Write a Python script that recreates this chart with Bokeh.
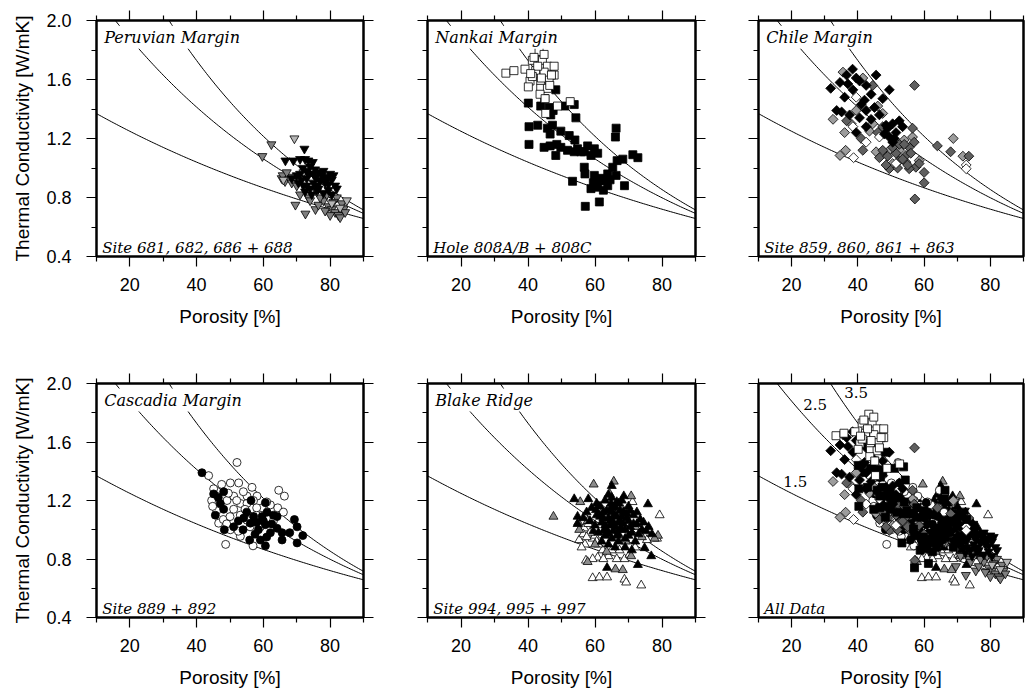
import numpy as np
from bokeh.plotting import figure
from bokeh.layouts import column, row
from bokeh.models import FixedTicker, LinearAxis, Label, PrintfTickFormatter, Range1d
from bokeh.embed import file_html
from bokeh.resources import INLINE

# ---------------------------------------------------------------------------
# Geometric-mean mixing model: k = k_water^phi * k_matrix^(1-phi)
k_water = 0.6
k_matrix = [1.5, 2.5, 3.5]

x_major = [20, 40, 60, 80]
x_minor = [10, 30, 50, 70, 90]
y_major = [0.4, 0.8, 1.2, 1.6, 2.0]
y_minor = [0.6, 1.0, 1.4, 1.8]

# ---------------------------------------------------------------------------
# Peruvian Margin (Sites 681, 682, 686, 688) - inverted triangles
peru_black_phi = [66.6, 69.0, 72.3, 71.0, 72.5, 73.5, 74.8, 71.8, 73.0, 74.0, 75.5, 76.5, 78.0,
                  80.0, 79.0, 77.0, 70.0, 71.5, 73.0, 75.0, 76.0, 78.5, 80.5, 81.5, 72.0, 74.0,
                  76.0, 79.5, 70.5, 68.5, 77.5, 75.5, 73.5, 82.0, 80.5, 78.0, 74.5, 72.5,
                  75.0, 77.0, 79.5, 73.0, 71.0, 76.5, 78.5, 81.0]
peru_black_k = [1.05, 1.05, 1.13, 1.06, 1.06, 1.05, 1.04, 1.00, 0.98, 1.01, 0.99, 0.97, 0.98,
                0.96, 0.93, 0.92, 0.95, 0.92, 0.93, 0.90, 0.88, 0.90, 0.92, 0.88, 0.88, 0.86,
                0.85, 0.85, 0.90, 0.93, 0.95, 0.94, 0.96, 0.86, 0.82, 0.83, 0.82, 0.84,
                0.96, 0.91, 0.89, 0.88, 0.96, 0.86, 0.94, 0.95]
peru_gray_phi = [59.7, 62.4, 65.5, 66.5, 67.5, 65.8, 68.5, 70.0, 69.6, 72.6, 75.6, 76.5, 78.0,
                 79.5, 80.5, 81.5, 82.5, 83.0, 84.0, 83.5, 82.0, 79.0, 77.0, 81.0, 71.0, 73.5,
                 76.0, 84.5, 80.0, 78.5, 67.0, 70.5, 74.0]
peru_gray_k = [1.08, 1.16, 0.93, 0.91, 0.94, 0.95, 0.90, 0.88, 0.75, 0.69, 0.72, 0.75, 0.78,
               0.74, 0.72, 0.70, 0.68, 0.665, 0.72, 0.76, 0.80, 0.82, 0.80, 0.77, 0.82, 0.80,
               0.84, 0.70, 0.68, 0.71, 0.97, 0.93, 0.78]
peru_light_phi = [69.3, 85.0, 80.5, 72.0, 66.0, 83.0]
peru_light_k = [1.20, 0.78, 0.76, 0.97, 0.92, 0.73]

# Nankai Margin (Hole 808A/B, 808C) - squares
nankai_open_phi = [33.4, 35.8, 39.1, 43.3, 41.3, 44.3, 45.8, 47.8, 47.8, 46.3, 43.8, 40.6, 40.1,
                   43.8, 45.8, 42.3, 44.8, 41.3, 43.6, 45.1, 45.3, 48.8, 52.6, 41.8, 44.8, 47.0,
                   42.9, 46.5, 40.8, 44.0]
nankai_open_k = [1.643, 1.66, 1.67, 1.79, 1.73, 1.73, 1.69, 1.69, 1.63, 1.60, 1.59, 1.59, 1.55,
                 1.54, 1.54, 1.66, 1.65, 1.62, 1.50, 1.47, 1.37, 1.42, 1.45, 1.75, 1.77, 1.63,
                 1.69, 1.56, 1.64, 1.61]
nankai_solid_phi = [48.3, 40.1, 43.8, 46.3, 46.8, 40.3, 42.9, 45.8, 47.3, 46.6, 49.8, 52.3, 54.0,
                    40.3, 44.8, 46.6, 48.6, 48.3, 51.8, 53.8, 55.8, 57.8, 58.8, 60.8, 54.3, 51.0,
                    53.8, 66.3, 66.1, 66.6, 68.3, 71.3, 72.8, 65.3, 63.8, 66.3, 56.8, 57.0, 59.8,
                    61.3, 58.8, 60.8, 63.8, 68.8, 53.3, 57.1, 61.3, 61.8, 56.8, 59.8, 54.8, 49.8,
                    62.8, 59.5, 62.5, 64.5, 45.0, 47.5]
nankai_solid_k = [1.53, 1.44, 1.42, 1.41, 1.36, 1.28, 1.29, 1.27, 1.29, 1.23, 1.25, 1.22, 1.19,
                  1.16, 1.14, 1.15, 1.16, 1.085, 1.12, 1.11, 1.11, 1.15, 1.085, 1.10, 1.34, 1.42,
                  1.43, 1.27, 1.21, 1.05, 1.06, 1.09, 1.07, 1.005, 0.96, 0.95, 1.005, 0.96, 0.95,
                  0.915, 0.86, 0.87, 0.88, 0.88, 0.91, 0.74, 0.77, 0.93, 1.11, 1.13, 1.13, 1.14,
                  0.915, 0.90, 0.85, 0.92, 1.47, 1.39]

# Chile Margin (Sites 859, 860, 861, 863) - diamonds
chile_black_phi = [31.8, 34.6, 38.4, 36.6, 40.5, 45.5, 49.5, 36.0, 38.5, 42.5, 47.5, 35.1, 37.5,
                   40.5, 42.5, 45.0, 39.5, 42.5, 48.5, 50.5, 51.5, 52.5, 49.5, 50.5, 33.6, 42.0,
                   46.5, 37.0, 39.5, 44.0, 48.0, 49.0, 51.0, 53.5, 41.0, 44.0]
chile_black_k = [1.54, 1.58, 1.67, 1.63, 1.59, 1.63, 1.53, 1.48, 1.53, 1.56, 1.47, 1.38, 1.36,
                 1.34, 1.39, 1.41, 1.24, 1.28, 1.29, 1.30, 1.24, 1.32, 1.21, 1.175, 1.39, 1.46,
                 1.36, 1.57, 1.61, 1.50, 1.23, 1.27, 1.20, 1.28, 1.43, 1.33]
chile_dark_phi = [57.1, 64.0, 68.0, 73.5, 57.2, 60.0, 60.0, 57.5, 57.0, 56.5, 54.5, 52.5, 49.5,
                  46.5, 41.5, 41.0, 46.0, 52.5, 55.5, 44.5, 36.6, 47.5, 55.5, 58.5, 51.5,
                  47.5, 49.0, 50.5, 53.5, 54.0, 52.0, 55.0, 48.5, 56.0]
chile_dark_k = [1.56, 1.15, 1.11, 1.08, 0.79, 0.90, 0.97, 1.005, 1.175, 1.27, 1.085, 1.05, 0.995,
                1.07, 1.12, 1.20, 1.24, 1.16, 1.14, 1.56, 1.32, 1.28, 0.995, 1.03, 1.10,
                1.12, 1.08, 1.14, 1.06, 1.16, 1.00, 1.02, 1.02, 1.10]
chile_light_phi = [32.5, 35.5, 41.5, 34.6, 36.3, 68.8, 71.7, 58.5, 47.5, 43.5, 50.5, 54.0, 56.5,
                   39.5, 36.0, 45.5, 54.5, 44.5, 46.0, 52.5, 49.5, 38.0]
chile_light_k = [1.33, 1.65, 1.61, 1.085, 1.12, 1.20, 1.08, 1.05, 1.37, 1.25, 1.03, 1.19, 1.21,
                 1.39, 1.24, 1.11, 1.04, 1.30, 1.42, 1.12, 1.12, 1.30]
chile_open_phi = [38.7, 72.7, 72.7, 42.5, 46.5, 39.5, 38.5, 51.5]
chile_open_k = [1.07, 1.02, 0.995, 1.175, 1.21, 1.48, 1.28, 1.03]

# Cascadia Margin (Sites 889, 892) - circles
casc_solid_phi = [41.6, 45.1, 48.1, 45.6, 48.1, 48.3, 51.1, 53.9, 54.1, 55.9, 56.3, 57.1, 56.1,
                  59.1, 60.6, 59.6, 60.6, 60.6, 61.1, 62.1, 64.1, 64.1, 65.6, 65.6, 67.9, 69.3,
                  70.1, 70.1, 71.8, 47.1, 58.0, 60.0, 62.5, 58.5, 57.5, 61.0, 63.0, 55.0, 52.5,
                  46.5]
casc_solid_k = [1.39, 1.245, 1.26, 1.10, 1.14, 1.00, 1.02, 1.00, 1.08, 0.93, 1.20, 1.09, 1.045,
                0.93, 1.185, 1.09, 1.035, 0.89, 1.12, 0.98, 1.09, 1.01, 0.98, 0.93, 0.98, 1.07,
                1.02, 0.91, 0.96, 1.18, 1.05, 1.06, 1.04, 1.00, 0.97, 0.95, 1.10, 1.12, 1.06,
                1.22]
casc_open_phi = [52.1, 43.6, 50.1, 52.6, 45.1, 56.6, 49.1, 51.1, 53.1, 55.1, 58.1, 47.1, 51.1,
                 53.1, 46.6, 50.1, 53.1, 48.7, 56.9, 64.6, 66.3, 64.3, 62.1, 59.6, 57.9, 55.1,
                 45.9, 59.1, 55.1, 44.5, 46.0, 48.0, 49.5, 54.0, 57.0, 50.0, 52.0, 54.5, 61.0,
                 63.0, 66.0, 47.5, 44.8, 49.0, 52.5, 56.0, 58.0]
casc_open_k = [1.46, 1.37, 1.32, 1.32, 1.28, 1.29, 1.20, 1.23, 1.18, 1.23, 1.23, 1.16, 1.14,
               1.10, 1.045, 1.00, 0.955, 0.90, 0.89, 1.27, 1.23, 1.15, 1.17, 1.15, 1.10, 1.18,
               1.23, 1.02, 1.065, 1.20, 1.13, 1.07, 1.25, 1.26, 1.20, 1.09, 1.20, 1.14, 1.19,
               1.06, 1.12, 1.31, 1.16, 1.04, 0.99, 1.02, 1.15]

# Blake Ridge (Sites 994, 995, 997) - triangles
blake_gray_phi = [47.6, 59.6, 65.6, 64.4, 55.6, 70.8, 55.3, 57.8, 66.1, 68.3, 78.8, 69.2, 57.8,
                  70.8, 77.8, 55.0, 62.0, 66.0, 72.0, 60.0, 68.0, 74.0, 63.5]
blake_gray_k = [1.09, 1.31, 1.33, 1.245, 1.19, 1.23, 1.00, 0.78, 0.73, 0.725, 0.96, 0.92, 1.06,
                0.82, 0.94, 1.05, 1.12, 1.00, 1.02, 0.90, 1.15, 0.95, 0.85]
blake_solid_phi = [53.8, 58.0, 65.0, 68.6, 75.8, 64.8, 60.3, 54.8, 54.8, 63.6, 72.8, 76.8, 74.8,
                   75.3, 59.0, 60.5, 61.5, 62.0, 62.5, 63.0, 63.5, 64.0, 64.5, 65.0, 65.5, 66.0,
                   66.5, 67.0, 67.5, 68.0, 68.5, 69.0, 69.5, 70.0, 70.5, 71.0, 71.5, 72.0, 72.5,
                   73.0, 73.5, 74.0, 61.0, 62.0, 63.0, 64.0, 65.0, 66.0, 67.0, 60.0, 58.5, 57.5,
                   56.5, 59.5, 65.0, 66.0, 68.0, 70.5, 72.5, 74.5, 76.0, 77.0, 69.0, 71.0, 64.5,
                   67.5, 62.5, 63.5, 64.5, 65.5, 66.5, 67.5, 68.5, 69.5, 63.0, 65.0, 66.0, 67.0,
                   68.0, 69.0, 70.0, 64.0, 65.5, 67.0, 61.5, 60.5, 62.5, 71.5, 70.0, 66.5, 64.0]
blake_solid_k = [1.21, 1.21, 1.30, 1.23, 1.175, 1.18, 1.135, 1.09, 1.04, 0.74, 0.76, 0.82, 0.875,
                 0.99, 1.15, 1.10, 1.16, 1.05, 1.12, 1.20, 1.00, 1.08, 1.14, 1.22, 1.04, 1.10,
                 0.96, 1.18, 1.06, 1.00, 1.12, 0.94, 1.08, 1.16, 1.02, 0.98, 1.10, 0.92, 1.04,
                 0.97, 1.07, 1.00, 0.98, 0.92, 0.96, 0.90, 0.94, 0.88, 0.92, 1.03, 1.06, 1.12,
                 1.08, 0.99, 1.12, 1.16, 1.20, 1.13, 1.12, 1.05, 1.02, 0.97, 0.88, 0.86, 1.03,
                 1.01, 1.08, 1.13, 1.06, 1.15, 1.09, 1.13, 1.04, 1.11, 1.03, 1.07, 1.02, 1.05,
                 1.09, 1.00, 1.06, 0.97, 0.99, 0.97, 1.09, 1.18, 0.99, 1.04, 0.96, 1.19, 1.24]
blake_open_phi = [79.3, 71.2, 56.8, 59.3, 55.3, 56.5, 62.3, 60.8, 59.3, 57.3, 68.8, 70.3, 67.3,
                  65.0, 59.3, 61.3, 63.6, 68.8, 69.3, 73.8, 78.5, 58.0, 61.0, 64.0, 66.5, 72.0,
                  75.5, 60.0, 57.0, 56.0, 58.5, 57.5, 60.5, 62.5]
blake_open_k = [1.10, 1.19, 1.01, 0.94, 0.93, 0.97, 0.86, 0.81, 0.80, 0.79, 0.80, 0.83, 0.86,
                0.86, 0.67, 0.675, 0.675, 0.66, 0.64, 0.62, 0.94, 1.04, 0.90, 0.82, 0.80, 0.88,
                0.93, 0.96, 0.90, 0.88, 0.98, 0.95, 0.92, 0.80]

# ---------------------------------------------------------------------------
SANS = "Liberation Sans"
SERIF = "DejaVu Serif"
TICK_FONT = "18px"
TITLE_FONT = "19px"

# marker styling per group: (phi, k, marker, fill, size, angle)
peru = [(peru_gray_phi, peru_gray_k, "inverted_triangle", "#7f7f7f", 9, 0.0),
        (peru_light_phi, peru_light_k, "inverted_triangle", "#b5b5b5", 9, 0.0),
        (peru_black_phi, peru_black_k, "inverted_triangle", "black", 9, 0.0)]
nankai = [(nankai_solid_phi, nankai_solid_k, "square", "black", 8, 0.0),
          (nankai_open_phi, nankai_open_k, "square", "white", 8, 0.0)]
chile = [(chile_light_phi, chile_light_k, "square", "#9c9c9c", 7, np.pi / 4),
         (chile_dark_phi, chile_dark_k, "square", "#5f5f5f", 7, np.pi / 4),
         (chile_open_phi, chile_open_k, "square", "white", 7, np.pi / 4),
         (chile_black_phi, chile_black_k, "square", "black", 7, np.pi / 4)]
casc = [(casc_open_phi, casc_open_k, "circle", "white", 8, 0.0),
        (casc_solid_phi, casc_solid_k, "circle", "black", 8, 0.0)]
blake = [(blake_open_phi, blake_open_k, "triangle", "white", 9, 0.0),
         (blake_gray_phi, blake_gray_k, "triangle", "#8c8c8c", 9, 0.0),
         (blake_solid_phi, blake_solid_k, "triangle", "black", 9, 0.0)]


def make_axis(side, ticker, fmt, show_labels, label=None):
    ax = LinearAxis(ticker=ticker, formatter=fmt)
    ax.axis_line_color = None
    ax.major_tick_out = 10
    ax.major_tick_in = 0
    ax.minor_tick_out = 5
    ax.minor_tick_in = 0
    ax.major_tick_line_color = "black"
    ax.minor_tick_line_color = "black"
    ax.major_tick_line_width = 1.2
    ax.minor_tick_line_width = 1.2
    if show_labels:
        ax.major_label_text_font = SANS
        ax.major_label_text_font_size = TICK_FONT
        ax.major_label_text_color = "black"
        ax.major_label_standoff = 11 if side == "below" else 15
    else:
        # tick marks only, no visible labels
        ax.major_label_text_font_size = "0px"
        ax.major_label_standoff = 0
    if label:
        ax.axis_label = label
        ax.axis_label_text_font = SANS
        ax.axis_label_text_font_size = TITLE_FONT
        ax.axis_label_text_font_style = "normal"
        ax.axis_label_text_color = "black"
        ax.axis_label_standoff = 12 if side == "below" else 10
    return ax


def make_panel(groups, frame_w, frame_h, left, right, top, bottom,
               first_col, right_axis, title=None, footer=None, curve_tags=False):
    p = figure(width=left + frame_w + right, height=top + frame_h + bottom,
               x_range=Range1d(10, 90), y_range=Range1d(0.4, 2.0),
               x_axis_location=None, y_axis_location=None,
               min_border_left=left, min_border_right=right,
               min_border_top=top, min_border_bottom=bottom,
               output_backend="svg", toolbar_location=None)
    p.xgrid.visible = False
    p.ygrid.visible = False
    p.outline_line_color = "black"
    p.outline_line_width = 2.5
    p.background_fill_color = "white"
    p.border_fill_color = "white"

    xt = FixedTicker(ticks=x_major, minor_ticks=x_minor)
    yt = FixedTicker(ticks=y_major, minor_ticks=y_minor)
    xf = PrintfTickFormatter(format="%d")
    yf = PrintfTickFormatter(format="%.1f")
    p.add_layout(make_axis("below", xt, xf, True, "Porosity [%]"), "below")
    p.add_layout(make_axis("above", xt, xf, False), "above")
    p.add_layout(make_axis("left", yt, yf, first_col,
                           "Thermal Conductivity [W/mK]" if first_col else None), "left")
    if right_axis:
        p.add_layout(make_axis("right", yt, yf, False), "right")

    # model curves
    phi = np.linspace(10, 90, 161)
    for ks in k_matrix:
        k = k_water ** (phi / 100.0) * ks ** (1.0 - phi / 100.0)
        p.line(phi, k, line_color="black", line_width=1)

    for (xs, ys, marker, fill, size, angle) in groups:
        p.scatter(xs, ys, marker=marker, size=size, angle=angle,
                  fill_color=fill, line_color="black", line_width=0.8)

    if title:
        p.add_layout(Label(x=11.7, y=1.965, text=title, text_baseline="top",
                           text_font=SERIF, text_font_style="italic",
                           text_font_size="16px", text_color="black",
                           background_fill_color="white", padding=2))
    if footer:
        p.add_layout(Label(x=11.7, y=0.455, text=footer, text_baseline="alphabetic",
                           text_font=SERIF, text_font_style="italic",
                           text_font_size="15px", text_color="black"))
    if curve_tags:
        tag_pos = [(21.1, 1.328), (27.1, 1.857), (39.5, 1.937)]
        for ks, (tx, ty) in zip(k_matrix, tag_pos):
            p.add_layout(Label(x=tx, y=ty, text=f"{ks:.1f}", text_align="center",
                               text_baseline="middle", text_font=SERIF,
                               text_font_size="15px", text_color="black"))
    return p


W1, W2, W3 = 267, 268, 265
H1, H2 = 236, 235

p1 = make_panel(peru, W1, H1, 96, 30, 20, 75, True, True,
                "Peruvian Margin", "Site 681, 682, 686 + 688")
p2 = make_panel(nankai, W2, H1, 34, 30, 20, 75, False, True,
                "Nankai Margin", "Hole 808A/B + 808C")
p3 = make_panel(chile, W3, H1, 33, 2, 20, 75, False, False,
                "Chile Margin", "Site 859, 860, 861 + 863")
p4 = make_panel(casc, W1, H2, 96, 30, 52, 72, True, True,
                "Cascadia Margin", "Site 889 + 892")
p5 = make_panel(blake, W2, H2, 34, 30, 52, 72, False, True,
                "Blake Ridge", "Site 994, 995 + 997")
p6 = make_panel(blake + peru + casc + chile + nankai, W3, H2, 33, 2, 52, 72, False, False,
                None, "All Data", curve_tags=True)

layout = column(row(p1, p2, p3), row(p4, p5, p6))

with open("out.html", "w") as f:
    f.write(file_html(layout, INLINE, title="Thermal conductivity vs porosity"))
